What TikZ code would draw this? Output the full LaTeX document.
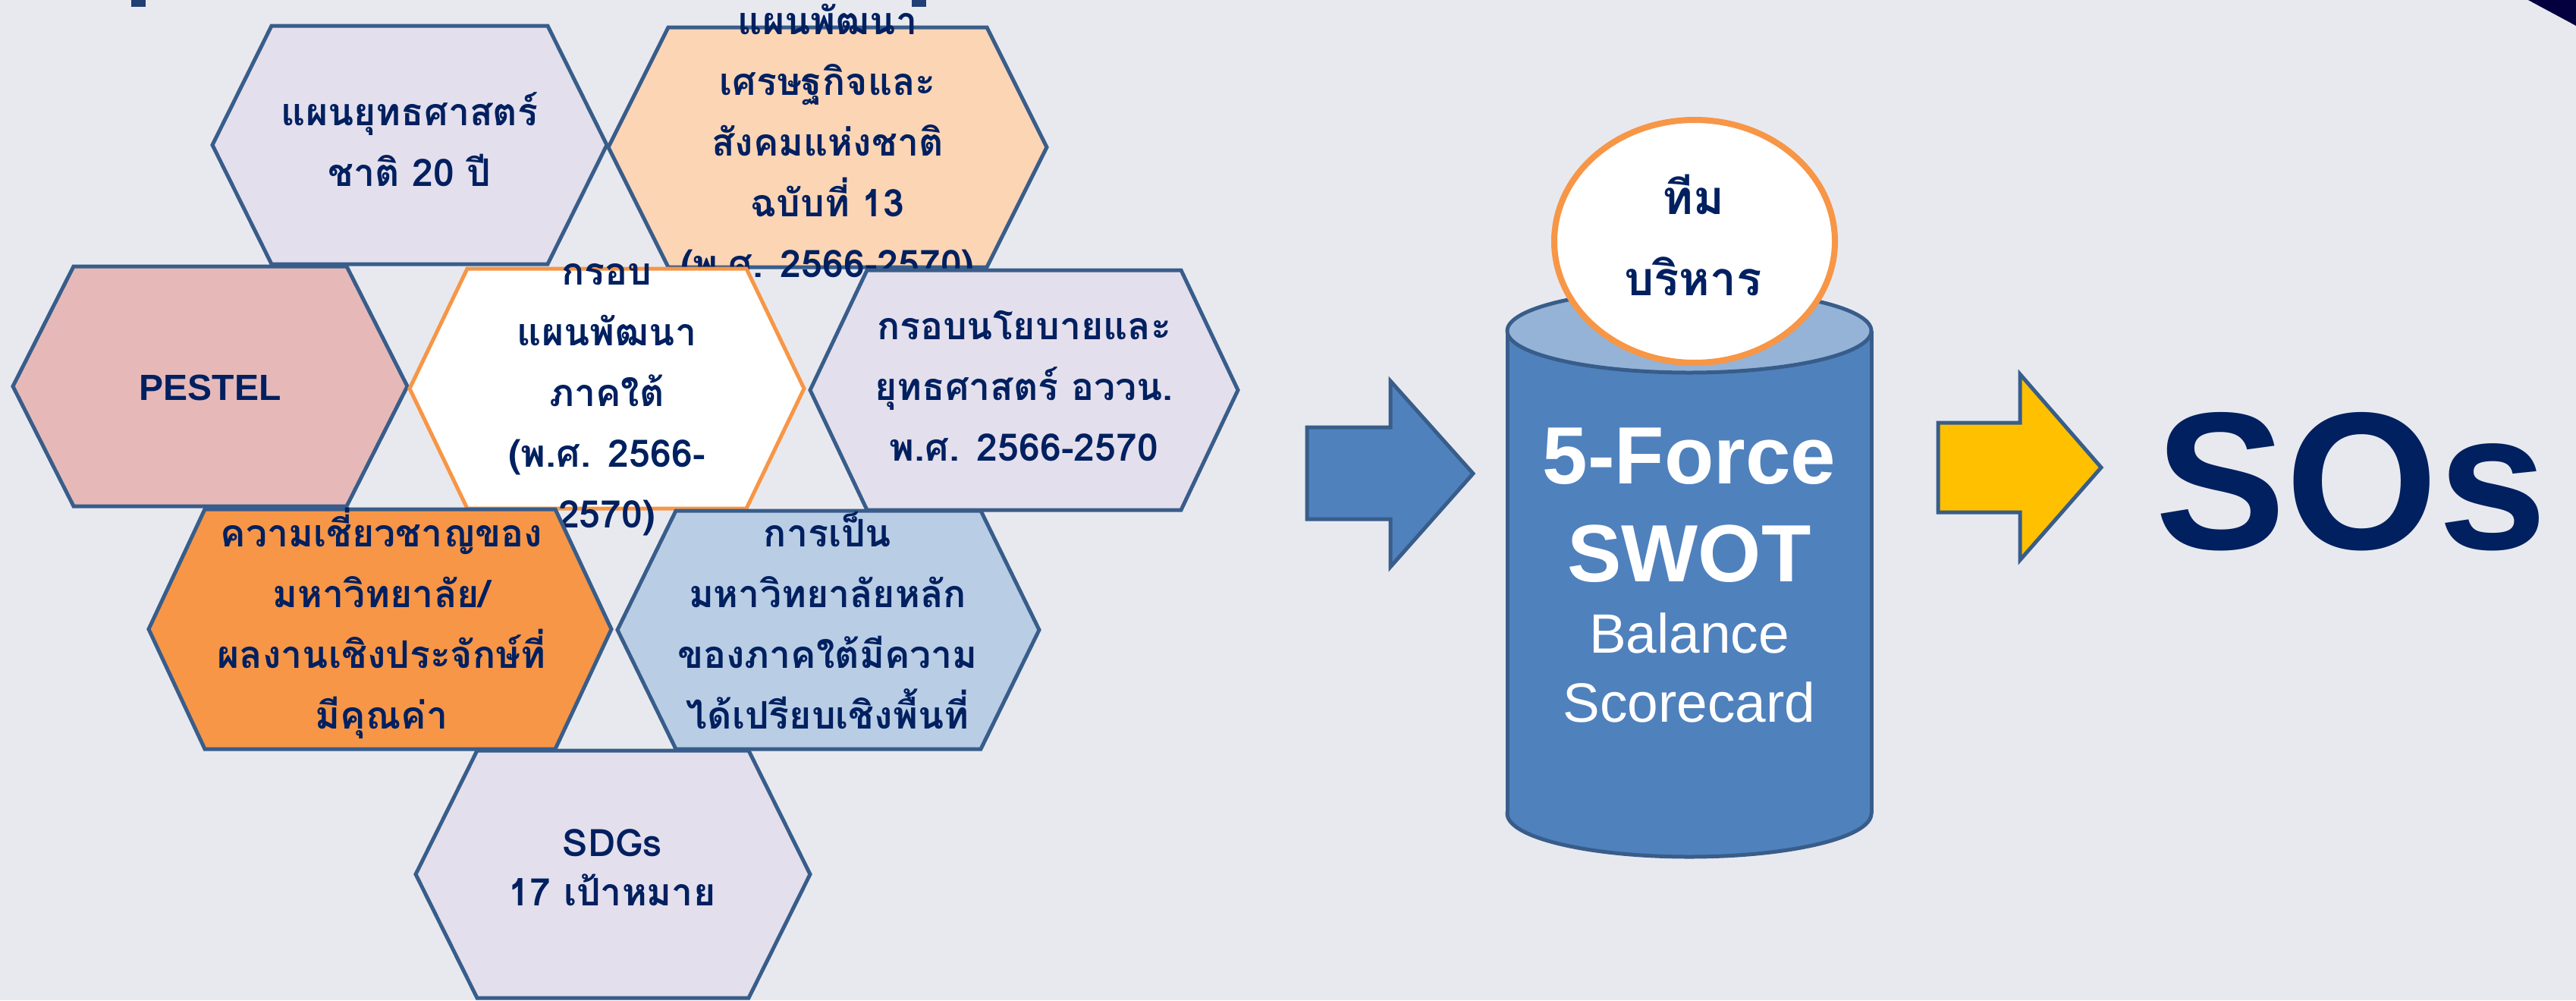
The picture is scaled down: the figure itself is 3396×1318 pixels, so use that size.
\documentclass[tikz,border=0pt]{standalone}
\usepackage{fontspec}
\setmainfont{Liberation Sans}
\newfontfamily\thaifont[Script=Thai]{Loma}
\definecolor{bg}{HTML}{E8E9EF}
\definecolor{navy}{HTML}{002060}
\definecolor{hexborder}{HTML}{385D8A}
\definecolor{lav}{HTML}{E4DFEC}
\definecolor{peach}{HTML}{FCD5B5}
\definecolor{rose}{HTML}{E6B9B8}
\definecolor{orng}{HTML}{F79646}
\definecolor{lblue}{HTML}{B9CDE5}
\definecolor{cylbody}{HTML}{4F81BD}
\definecolor{cyltop}{HTML}{95B3D7}
\definecolor{yel}{HTML}{FFC000}
\definecolor{darknavy}{HTML}{040040}
\definecolor{desc}{HTML}{1F3F75}
\newcommand\hexat[6]{\path[#1] ({#2-#4},{#3}) -- ({#2-#4+#6},{#3-#5}) -- ({#2+#4-#6},{#3-#5}) -- ({#2+#4},{#3}) -- ({#2+#4-#6},{#3+#5}) -- ({#2-#4+#6},{#3+#5}) -- cycle;}
\tikzset{
  hexbox/.style={draw=hexborder, line width=5, line join=miter},
  hextext/.style={text=navy, align=center, inner sep=0pt, font=\thaifont\bfseries\fontsize{50}{80}\selectfont},
  latintext/.style={text=navy, align=center, inner sep=0pt, font=\bfseries\fontsize{48}{65}\selectfont},
  blockarrow/.style={draw=hexborder, line width=5, line join=miter},
  cyltext/.style={text=white, inner sep=0pt, anchor=base}
}
\begin{document}
\begin{tikzpicture}[x=1pt,y=-1pt]
\useasboundingbox (0,0) rectangle (3396,1318);
\fill[bg] (0,0) rectangle (3396,1318);
% cut-off title marks
\fill[desc] (173,0) rectangle (192,9);
\fill[desc] (1202,0) rectangle (1221,9);
\fill[darknavy] (3333,0) .. controls (3355,12) and (3376,23) .. (3396,34) -- (3396,0) -- cycle;

% hexagons
\hexat{hexbox, fill=lav}{540}{191}{260}{157}{78}
\node[hextext] (h1) at (540,189) {\strut แผนยุทธศาสตร์\\\strut ชาติ 20 ปี};

\hexat{hexbox, fill=peach}{1091}{194}{289}{158}{79}
\node[hextext] (h2) at (1091,189) {\strut แผนพัฒนา\\\strut เศรษฐกิจและ\\\strut สังคมแห่งชาติ\\\strut ฉบับที่ 13\\\strut (พ.ศ. 2566-2570)};

\hexat{hexbox, fill=rose}{277}{509}{260}{158}{80}
\node[latintext, font=\bfseries\fontsize{48}{80}\selectfont] (pestel) at (277,511) {\strut PESTEL};

\hexat{hexbox, draw=orng, fill=white}{800}{512}{260}{158}{76}
\node[hextext] (hc) at (800,519) {\strut กรอบ\\\strut แผนพัฒนา\\\strut ภาคใต้\\\strut (พ.ศ. 2566-\\\strut 2570)};

\hexat{hexbox, fill=lav}{1350}{514}{282}{158}{75}
\node[hextext] (hr) at (1350,511) {\strut กรอบนโยบายและ\\\strut ยุทธศาสตร์ อววน.\\\strut พ.ศ. 2566-2570};

\hexat{hexbox, fill=orng}{501}{829}{305}{158}{74}
\node[hextext] (ho) at (503,824) {\strut ความเชี่ยวชาญของ\\\strut มหาวิทยาลัย/\\\strut ผลงานเชิงประจักษ์ที่\\\strut มีคุณค่า};

\hexat{hexbox, fill=lblue}{1092}{830}{278}{157}{77}
\node[hextext] (hb) at (1091,824) {\strut การเป็น\\\strut มหาวิทยาลัยหลัก\\\strut ของภาคใต้มีความ\\\strut ได้เปรียบเชิงพื้นที่};

\hexat{hexbox, fill=lav}{808}{1152}{260}{163}{81}
\node[hextext, font=\thaifont\bfseries\fontsize{50}{65}\selectfont] (hs) at (807,1148) {\strut SDGs\\\strut 17 เป้าหมาย};

% blue arrow
\path[blockarrow, fill=cylbody] (1723,563) -- (1833,563) -- (1833,502) -- (1942,624) -- (1833,747) -- (1833,684) -- (1723,684) -- cycle;

% cylinder
\filldraw[fill=cylbody, draw=hexborder, line width=5] (2227,1072) ellipse [x radius=240, y radius=57];
\fill[cylbody] (1987,436) rectangle (2467,1072);
\draw[hexborder, line width=5] (1987,436) -- (1987,1072) (2467,436) -- (2467,1072);
\filldraw[fill=cyltop, draw=hexborder, line width=5] (2227,436) ellipse [x radius=240, y radius=55];
\node[cyltext, font=\bfseries\fontsize{107}{107}\selectfont] (force) at (2227,637) {5-Force};
\node[cyltext, font=\bfseries\fontsize{107}{107}\selectfont] (swot) at (2227,766) {SWOT};
\node[cyltext, font=\fontsize{73}{73}\selectfont] (bal) at (2227,860) {Balance};
\node[cyltext, font=\fontsize{73}{73}\selectfont] (score) at (2227,951) {Scorecard};

% team ellipse
\filldraw[fill=white, draw=orng, line width=8] (2234,318) ellipse [x radius=185, y radius=160];
\node[hextext, font=\thaifont\bfseries\fontsize{62}{107}\selectfont] (team) at (2232,315) {\strut ทีม\\\strut บริหาร};

% yellow arrow
\path[blockarrow, fill=yel] (2555,557) -- (2663,557) -- (2663,493) -- (2770,616) -- (2663,738) -- (2663,675) -- (2555,675) -- cycle;

% SOs
\node[text=navy, inner sep=0pt, anchor=base, font=\bfseries\fontsize{258}{258}\selectfont] (sos) at (3100,723) {SOs};
\end{tikzpicture}
\end{document}
